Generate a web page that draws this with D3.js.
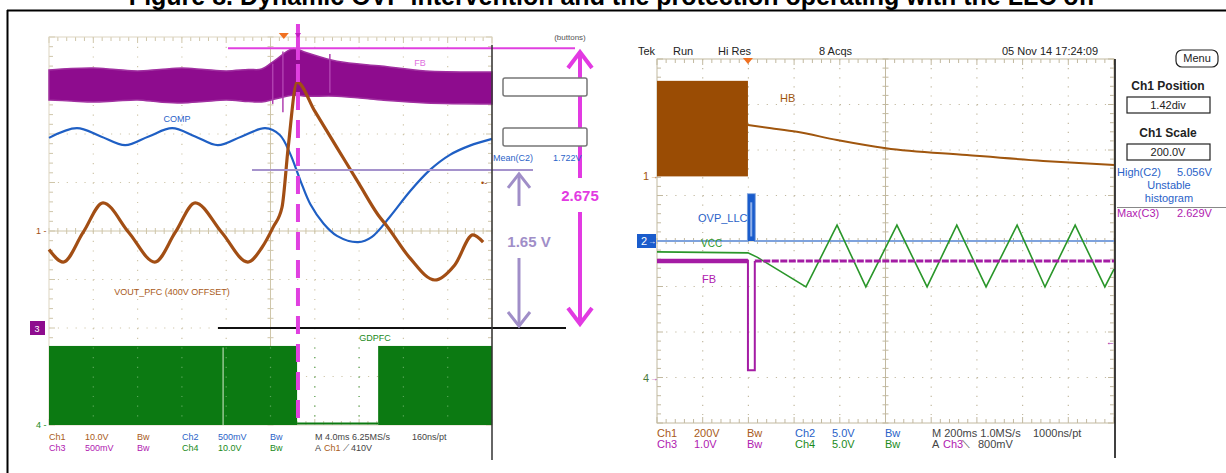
<!DOCTYPE html>
<html><head><meta charset="utf-8">
<script src="https://cdn.jsdelivr.net/npm/d3@7"></script>
<style>
body{margin:0;background:#fff}
svg{display:block}
text{font-family:"Liberation Sans",Arial,sans-serif}
</style>
</head><body>
<svg id="c" width="1226" height="473"></svg>
<script>
// ---------------- DATA (values in scope divisions: x 0..10, y -4..4) ----------------
const titleText = "Figure 8. Dynamic OVP intervention and the protection operating with the LLC off";

// Left scope (PFC)
const pfcComp = [[0,1.92],[0.63,2.12],[1.17,1.95],[1.72,1.77],[2.25,1.95],[2.78,2.12],[3.3,1.95],[3.81,1.77],[4.35,1.95],[4.88,2.12],[5.21,1.98],[5.44,1.6],[5.67,1.05],[5.9,0.55],[6.2,0.15],[6.5,-0.1],[6.98,-0.23],[7.29,-0.12],[7.70,0.30],[8.15,0.82],[8.60,1.26],[9.05,1.57],[9.50,1.76],[10,1.90]];
const pfcVout = [[0,-0.38],[0.32,-0.64],[0.77,-0.03],[1.22,0.58],[1.80,-0.03],[2.39,-0.64],[2.85,-0.03],[3.30,0.58],[3.90,-0.03],[4.49,-0.64],[4.80,-0.35],[5.06,0.08],[5.26,0.49],[5.40,1.73],[5.60,3.07],[6.0,2.47],[6.5,1.72],[7.0,0.97],[7.43,0.33],[7.63,0.10],[8.15,-0.56],[8.71,-1.01],[9.16,-0.70],[9.57,-0.08],[9.80,-0.23]];
// FB band: [x, lower, upper]
const pfcFb = [[0,2.70,3.32],[0.5,2.68,3.35],[1.0,2.66,3.36],[1.5,2.68,3.33],[2.0,2.70,3.30],[2.5,2.66,3.33],[3.0,2.64,3.36],[3.5,2.67,3.33],[4.0,2.70,3.30],[4.5,2.67,3.33],[4.8,2.66,3.34],[5.1,2.72,3.52],[5.5,2.80,3.76],[5.8,2.78,3.68],[6.5,2.78,3.50],[7.5,2.70,3.40],[8.5,2.64,3.30],[10,2.62,3.28]];
const pfcFbSpikes = [[5.28,2.45,3.70],[5.05,2.62,3.45],[6.34,2.85,3.65]];
const pfcGdOn = [[0,5.60],[7.43,10]];
const pfcGdLevels = [-4,-2.37];
const pfcLevels = [3.77, 1.26, -2.0];   // FB max, Mean(C2), Ch3 zero
const pfcEventX = 5.62;                  // OVP instant (dashed marker)
const pfcReadRow1 = [["Ch1","#a85a20"],["10.0V","#a85a20"],["Bw","#a85a20"],["Ch2","#2a62c8"],["500mV","#2a62c8"],["Bw","#2a62c8"],["M 4.0ms 6.25MS/s","#444"],["160ns/pt","#444"]];
const pfcReadRow2 = [["Ch3","#b020b0"],["500mV","#b020b0"],["Bw","#b020b0"],["Ch4","#1a8a1a"],["10.0V","#1a8a1a"],["Bw","#1a8a1a"],["A","#444"],["Ch1","#a85a20"],["⟋","#444"],["410V","#444"]];

// Right scope (LLC)
const llcHbBurst = [[0,1.42],[1.99,3.52]];
const llcHb = [[1.99,2.55],[2.5,2.48],[3.06,2.40],[3.94,2.22],[5.01,2.04],[6.78,1.89],[8.45,1.76],[10,1.67]];
const llcOvp = [[0,0],[1.99,0],[1.99,1.03],[2.14,1.03],[2.14,0],[10,0]];
const llcVcc = [[0,-0.24],[1.99,-0.26],[2.2,-0.36],[3.26,-1.01],[3.94,0.35],[4.57,-1.01],[5.25,0.35],[5.91,-1.01],[6.56,0.35],[7.20,-1.01],[7.88,0.35],[8.49,-1.01],[9.15,0.35],[9.80,-1.01],[10,-0.62]];
const llcFbBefore = [[0,-0.44],[1.99,-0.44],[1.99,-2.84],[2.14,-2.84],[2.14,-0.44]];
const llcFbAfter = [[2.14,-0.44],[10,-0.44]];
const llcTrigLevel = -2.22;
const llcStatus = ["Tek","Run","Hi Res","8 Acqs","05 Nov 14 17:24:09"];
const llcReadRow1 = [["Ch1","#a85a20"],["200V","#a85a20"],["Bw","#a85a20"],["Ch2","#2a62c8"],["5.0V","#2a62c8"],["Bw","#2a62c8"],["M 200ms 1.0MS/s","#444"],["1000ns/pt","#444"]];
const llcReadRow2 = [["Ch3","#b020b0"],["1.0V","#b020b0"],["Bw","#b020b0"],["Ch4","#1a8a1a"],["5.0V","#1a8a1a"],["Bw","#1a8a1a"],["A","#444"],["Ch3","#b020b0"],["⟍","#444"],["800mV","#444"]];
const llcMenu = [["Ch1 Position","1.42div"],["Ch1 Scale","200.0V"]];
const llcMeas = [["High(C2)","5.056V","#2a62c8"],["Max(C3)","2.629V","#b020b0"]];

// ---------------- DRAWING ----------------
const svg = d3.select("#c");
const pfcX = d3.scaleLinear().domain([0,10]).range([49,492]);
const pfcY = d3.scaleLinear().domain([4,-4]).range([37,425]);
const llcX = d3.scaleLinear().domain([0,10]).range([657,1114]);
const llcY = d3.scaleLinear().domain([4,-4]).range([59,423]);

// title (clipped at top, as in the reference) and frame
svg.append("text").attr("x",612).attr("y",4.5).attr("text-anchor","middle")
  .attr("font-size",25).attr("font-weight","bold").attr("fill","#000").text(titleText);
svg.append("line").attr("x1",7).attr("x2",1226).attr("y1",10.5).attr("y2",10.5).attr("stroke","#000").attr("stroke-width",2);
svg.append("line").attr("x1",7.5).attr("x2",7.5).attr("y1",10).attr("y2",473).attr("stroke","#000").attr("stroke-width",2);

function drawGrid(g, x, y, col, border) {
  const dx = x(0.2)-x(0), dy = y(0)-y(0.2);
  for (let i=1;i<10;i++) if (i!==5)
    g.append("line").attr("x1",x(i)).attr("x2",x(i)).attr("y1",y(4)).attr("y2",y(-4))
      .attr("stroke",col).attr("stroke-width",1.2).attr("stroke-dasharray",`1.2,${dy-1.2}`);
  for (let j=-3;j<=3;j++) if (j!==0)
    g.append("line").attr("x1",x(0)).attr("x2",x(10)).attr("y1",y(j)).attr("y2",y(j))
      .attr("stroke",col).attr("stroke-width",1.2).attr("stroke-dasharray",`1.2,${dx-1.2}`);
  g.append("line").attr("x1",x(5)).attr("x2",x(5)).attr("y1",y(4)).attr("y2",y(-4)).attr("stroke",col).attr("stroke-width",1);
  g.append("line").attr("x1",x(0)).attr("x2",x(10)).attr("y1",y(0)).attr("y2",y(0)).attr("stroke",col).attr("stroke-width",1);
  const xt = d3.range(0,10.001,0.2), yt = d3.range(-4,4.001,0.2);
  xt.forEach(v=>{
    const L = Math.abs(v-Math.round(v))<1e-6 ? 6 : 4;
    g.append("line").attr("x1",x(v)).attr("x2",x(v)).attr("y1",y(4)).attr("y2",y(4)+L).attr("stroke",col);
    g.append("line").attr("x1",x(v)).attr("x2",x(v)).attr("y1",y(-4)).attr("y2",y(-4)-L).attr("stroke",col);
    g.append("line").attr("x1",x(v)).attr("x2",x(v)).attr("y1",y(0)-3).attr("y2",y(0)+3).attr("stroke",col);
  });
  yt.forEach(v=>{
    const L = Math.abs(v-Math.round(v))<1e-6 ? 6 : 4;
    g.append("line").attr("y1",y(v)).attr("y2",y(v)).attr("x1",x(0)).attr("x2",x(0)+L).attr("stroke",col);
    g.append("line").attr("y1",y(v)).attr("y2",y(v)).attr("x1",x(10)).attr("x2",x(10)-L).attr("stroke",col);
    g.append("line").attr("y1",y(v)).attr("y2",y(v)).attr("x1",x(5)-3).attr("x2",x(5)+3).attr("stroke",col);
  });
  if (border) g.append("rect").attr("x",x(0)).attr("y",y(4)).attr("width",x(10)-x(0)).attr("height",y(-4)-y(4))
    .attr("fill","none").attr("stroke",border);
}

function arrowHead(g, x, y, dir, w, h, col, sw) {
  g.append("path").attr("d",`M${x-w},${y+dir*h}L${x},${y}L${x+w},${y+dir*h}`)
    .attr("fill","none").attr("stroke",col).attr("stroke-width",sw).attr("stroke-linejoin","miter");
}

// ================= LEFT SCOPE =================
const L = svg.append("g");
drawGrid(L, pfcX, pfcY, "#cfc6aa", "#ddd6c2");

L.append("path").datum(pfcFb)
  .attr("d", d3.area().x(d=>pfcX(d[0])).y0(d=>pfcY(d[1])).y1(d=>pfcY(d[2])).curve(d3.curveCatmullRom))
  .attr("fill","#8e0c8e").attr("stroke","#a030a0").attr("stroke-width",1.5);
pfcFbSpikes.forEach(s=>{
  L.append("line").attr("x1",pfcX(s[0])).attr("x2",pfcX(s[0])).attr("y1",pfcY(s[1])).attr("y2",pfcY(s[2]))
    .attr("stroke","#b040b0").attr("stroke-width",1.5);
});

pfcGdOn.forEach(r=>{
  L.append("rect").attr("x",pfcX(r[0])).attr("width",pfcX(r[1])-pfcX(r[0]))
    .attr("y",pfcY(pfcGdLevels[1])).attr("height",pfcY(pfcGdLevels[0])-pfcY(pfcGdLevels[1]))
    .attr("fill","#0c7a12");
});
L.append("line").attr("x1",pfcX(pfcGdOn[0][1])).attr("x2",pfcX(pfcGdOn[1][0]))
  .attr("y1",pfcY(-3.97)).attr("y2",pfcY(-3.97)).attr("stroke","#0c7a12").attr("stroke-width",2);
L.append("line").attr("x1",pfcX(3.93)).attr("x2",pfcX(3.93)).attr("y1",pfcY(-2.4)).attr("y2",pfcY(-4))
  .attr("stroke","#b8d8b0").attr("stroke-width",1.2);
for (let i=1;i<10;i++) L.append("line").attr("x1",pfcX(i)).attr("x2",pfcX(i)).attr("y1",pfcY(-2.4)).attr("y2",pfcY(-4))
  .attr("stroke","#5aa85a").attr("stroke-width",1.2).attr("stroke-dasharray","1.2,8.5");

L.append("path").datum(pfcComp)
  .attr("d", d3.line().x(d=>pfcX(d[0])).y(d=>pfcY(d[1])).curve(d3.curveCatmullRom))
  .attr("fill","none").attr("stroke","#1f5fc4").attr("stroke-width",2.2);
L.append("path").datum(pfcVout)
  .attr("d", d3.line().x(d=>pfcX(d[0])).y(d=>pfcY(d[1])).curve(d3.curveMonotoneX))
  .attr("fill","none").attr("stroke","#a24e14").attr("stroke-width",3.2);

// annotations
L.append("line").attr("x1",228).attr("x2",575).attr("y1",pfcY(pfcLevels[0])).attr("y2",pfcY(pfcLevels[0]))
  .attr("stroke","#e040e0").attr("stroke-width",2);
L.append("line").attr("x1",252).attr("x2",533).attr("y1",pfcY(pfcLevels[1])).attr("y2",pfcY(pfcLevels[1]))
  .attr("stroke","#a592cc").attr("stroke-width",2);
L.append("line").attr("x1",218).attr("x2",566).attr("y1",pfcY(pfcLevels[2])).attr("y2",pfcY(pfcLevels[2]))
  .attr("stroke","#111").attr("stroke-width",2);
L.append("line").attr("x1",pfcX(pfcEventX)).attr("x2",pfcX(pfcEventX)).attr("y1",24).attr("y2",60)
  .attr("stroke","#e040e0").attr("stroke-width",4);
L.append("line").attr("x1",pfcX(pfcEventX)).attr("x2",pfcX(pfcEventX)).attr("y1",64).attr("y2",pfcY(-4))
  .attr("stroke","#e040e0").attr("stroke-width",4).attr("stroke-dasharray","18,10");
L.append("line").attr("x1",492).attr("x2",492).attr("y1",45).attr("y2",460).attr("stroke","#333").attr("stroke-width",1.5);

L.append("path").attr("d",`M${pfcX(5.3)-5},33L${pfcX(5.3)+5},33L${pfcX(5.3)},39Z`).attr("fill","#f07020");
L.append("path").attr("d",`M${pfcX(pfcEventX)-3},33L${pfcX(pfcEventX)+3},33L${pfcX(pfcEventX)},38Z`).attr("fill","#c020c0");

const lav="#a08ec8";
L.append("line").attr("x1",519).attr("x2",519).attr("y1",pfcY(pfcLevels[1])+4).attr("y2",206).attr("stroke",lav).attr("stroke-width",3);
arrowHead(L,519,pfcY(pfcLevels[1])+4,1,11,14,lav,3);
L.append("line").attr("x1",519).attr("x2",519).attr("y1",258).attr("y2",pfcY(pfcLevels[2])-2).attr("stroke",lav).attr("stroke-width",3);
arrowHead(L,519,pfcY(pfcLevels[2])-2,-1,11,14,lav,3);
L.append("text").attr("x",529).attr("y",247).attr("text-anchor","middle").attr("font-family","DejaVu Sans")
  .attr("font-weight","bold").attr("font-size",15).attr("fill",lav).text("1.65 V");
const mag="#e23ae2";
L.append("line").attr("x1",580).attr("x2",580).attr("y1",52).attr("y2",178).attr("stroke",mag).attr("stroke-width",4);
arrowHead(L,580,52,1,12,16,mag,4);
L.append("line").attr("x1",580).attr("x2",580).attr("y1",212).attr("y2",324).attr("stroke",mag).attr("stroke-width",4);
arrowHead(L,580,324,-1,12,16,mag,4);
L.append("text").attr("x",580).attr("y",201).attr("text-anchor","middle").attr("font-family","DejaVu Sans")
  .attr("font-weight","bold").attr("font-size",15).attr("fill",mag).text("2.675");

[[78,96],[128,146]].forEach(b=>{
  L.append("rect").attr("x",503).attr("y",b[0]).attr("width",84).attr("height",b[1]-b[0]).attr("rx",2)
    .attr("fill","#fff").attr("stroke","#777").attr("stroke-width",1.5);
});
L.append("text").attr("x",570).attr("y",40).attr("text-anchor","middle").attr("font-size",8).attr("fill","#555").text("(buttons)");
L.append("text").attr("x",493).attr("y",161).attr("font-size",9).attr("fill","#2a62c8").text("Mean(C2)");
L.append("text").attr("x",553).attr("y",161).attr("font-size",9).attr("fill","#2a62c8").text("1.722V");
L.append("text").attr("x",481).attr("y",186).attr("font-size",9).attr("fill","#a24e14").text("•-");

L.append("text").attr("x",177).attr("y",122).attr("text-anchor","middle").attr("font-size",9).attr("fill","#2a62c8").text("COMP");
L.append("text").attr("x",420).attr("y",66).attr("text-anchor","middle").attr("font-size",9).attr("fill","#e070e0").text("FB");
L.append("text").attr("x",172).attr("y",295).attr("text-anchor","middle").attr("font-size",9).attr("fill","#a85a20").text("VOUT_PFC (400V OFFSET)");
L.append("text").attr("x",375).attr("y",341).attr("text-anchor","middle").attr("font-size",9).attr("fill","#1a8a1a").text("GDPFC");

L.append("text").attr("x",36).attr("y",pfcY(0)+3).attr("font-size",9).attr("fill","#a24e14").text("1 -");
L.append("rect").attr("x",30).attr("y",pfcY(-2)-7).attr("width",15).attr("height",14).attr("fill","#8e0c8e");
L.append("text").attr("x",37).attr("y",pfcY(-2)+4).attr("text-anchor","middle").attr("font-size",9).attr("fill","#fff").text("3");
L.append("text").attr("x",36).attr("y",pfcY(-4)+3).attr("font-size",9).attr("fill","#1a8a1a").text("4 -");

const pfcCols1=[49,85,137,182,218,270,315,412], pfcCols2=[49,85,137,182,218,270,315,324,343,351];
pfcReadRow1.forEach((t,i)=>L.append("text").attr("x",pfcCols1[i]).attr("y",440).attr("font-size",9).attr("fill",t[1]).text(t[0]));
pfcReadRow2.forEach((t,i)=>L.append("text").attr("x",pfcCols2[i]).attr("y",451).attr("font-size",9).attr("fill",t[1]).text(t[0]));

// ================= RIGHT SCOPE =================
const R = svg.append("g");
drawGrid(R, llcX, llcY, "#c2b9a0", "#c2b9a0");

R.append("rect").attr("x",llcX(llcHbBurst[0][0])).attr("y",llcY(llcHbBurst[1][1]))
  .attr("width",llcX(llcHbBurst[1][0])-llcX(llcHbBurst[0][0])).attr("height",llcY(llcHbBurst[0][1])-llcY(llcHbBurst[1][1]))
  .attr("fill","#9a4c04");
R.append("path").datum(llcHb)
  .attr("d", d3.line().x(d=>llcX(d[0])).y(d=>llcY(d[1])).curve(d3.curveMonotoneX))
  .attr("fill","none").attr("stroke","#a0560e").attr("stroke-width",2);

R.append("path").datum(llcOvp)
  .attr("d", d3.line().x(d=>llcX(d[0])).y(d=>llcY(d[1])))
  .attr("fill","none").attr("stroke","#7ea2dc").attr("stroke-width",2);
R.append("rect").attr("x",llcX(1.99)).attr("y",llcY(1.03)).attr("width",llcX(2.14)-llcX(1.99)).attr("height",llcY(0)-llcY(1.03))
  .attr("fill","#1a5ccc");
R.append("rect").attr("x",llcX(2.04)).attr("y",llcY(0.85)).attr("width",2).attr("height",llcY(0.1)-llcY(0.85)).attr("fill","#8fb0ea");

R.append("path").datum(llcVcc)
  .attr("d", d3.line().x(d=>llcX(d[0])).y(d=>llcY(d[1])))
  .attr("fill","none").attr("stroke","#2a962a").attr("stroke-width",1.6);

R.append("path").datum(llcFbBefore)
  .attr("d", d3.line().x(d=>llcX(d[0])).y(d=>llcY(d[1])))
  .attr("fill","none").attr("stroke","#a41ca4").attr("stroke-width",2);
R.append("line").attr("x1",llcX(0)).attr("x2",llcX(1.99)).attr("y1",llcY(-0.44)).attr("y2",llcY(-0.44))
  .attr("stroke","#a41ca4").attr("stroke-width",4.5);
R.append("path").datum(llcFbAfter)
  .attr("d", d3.line().x(d=>llcX(d[0])).y(d=>llcY(d[1])))
  .attr("fill","none").attr("stroke","#a41ca4").attr("stroke-width",3).attr("stroke-dasharray","7,1.5");

R.append("text").attr("x",780).attr("y",102).attr("font-size",11).attr("fill","#a0560e").text("HB");
R.append("text").attr("x",698).attr("y",222).attr("font-size",11).attr("fill","#2a62c8").text("OVP_LLC");
R.append("text").attr("x",701).attr("y",247).attr("font-size",10).attr("fill","#2a962a").text("VCC");
R.append("text").attr("x",702).attr("y",283).attr("font-size",11).attr("fill","#b020b0").text("FB");

R.append("text").attr("x",643).attr("y",llcY(1.42)+4).attr("font-size",11).attr("fill","#a0560e").text("1");
R.append("text").attr("x",650).attr("y",llcY(1.42)+3).attr("font-size",8).attr("fill","#a0560e").text("→");
R.append("rect").attr("x",637).attr("y",llcY(0)-7).attr("width",19).attr("height",14).attr("fill","#1a5ccc");
R.append("text").attr("x",641).attr("y",llcY(0)+4).attr("font-size",11).attr("fill","#fff").text("2");
R.append("text").attr("x",648).attr("y",llcY(0)+3).attr("font-size",8).attr("fill","#fff").text("→");
R.append("text").attr("x",643).attr("y",llcY(-3)+4).attr("font-size",11).attr("fill","#4a7a3a").text("4");
R.append("text").attr("x",650).attr("y",llcY(-3)+3).attr("font-size",8).attr("fill","#a41ca4").text("→");
R.append("text").attr("x",llcX(10)-8).attr("y",llcY(llcTrigLevel)+3).attr("font-size",9).attr("fill","#a41ca4").text("←");

R.append("line").attr("x1",1115).attr("x2",1115).attr("y1",59).attr("y2",458).attr("stroke","#000").attr("stroke-width",1.5);
R.append("path").attr("d",`M${llcX(1.99)-5},58L${llcX(1.99)+5},58L${llcX(1.99)},64Z`).attr("fill","#f07020");

const statX=[638,673,718,819,1002];
llcStatus.forEach((t,i)=>R.append("text").attr("x",statX[i]).attr("y",55).attr("font-size",11).attr("fill","#222").text(t));

R.append("rect").attr("x",1176).attr("y",50).attr("width",42).attr("height",17).attr("rx",6).attr("fill","#fff").attr("stroke","#222").attr("stroke-width",1.2);
R.append("text").attr("x",1197).attr("y",62).attr("text-anchor","middle").attr("font-size",11).attr("fill","#222").text("Menu");
const menuY=[90,137];
llcMenu.forEach((m,i)=>{
  R.append("text").attr("x",1168).attr("y",menuY[i]).attr("text-anchor","middle").attr("font-size",12).attr("font-weight","bold").attr("fill","#222").text(m[0]);
  R.append("rect").attr("x",1127).attr("y",menuY[i]+7).attr("width",83).attr("height",16).attr("fill","#fff").attr("stroke","#222").attr("stroke-width",1.2);
  R.append("text").attr("x",1168).attr("y",menuY[i]+19).attr("text-anchor","middle").attr("font-size",11).attr("fill","#222").text(m[1]);
});
R.append("text").attr("x",1117).attr("y",176).attr("font-size",11).attr("fill",llcMeas[0][2]).text(llcMeas[0][0]);
R.append("text").attr("x",1177).attr("y",176).attr("font-size",11).attr("fill",llcMeas[0][2]).text(llcMeas[0][1]);
R.append("text").attr("x",1169).attr("y",189).attr("text-anchor","middle").attr("font-size",11).attr("fill",llcMeas[0][2]).text("Unstable");
R.append("text").attr("x",1169).attr("y",202).attr("text-anchor","middle").attr("font-size",11).attr("fill",llcMeas[0][2]).text("histogram");
R.append("line").attr("x1",1117).attr("x2",1226).attr("y1",207.5).attr("y2",207.5).attr("stroke","#888");
R.append("text").attr("x",1117).attr("y",217).attr("font-size",11).attr("fill",llcMeas[1][2]).text(llcMeas[1][0]);
R.append("text").attr("x",1177).attr("y",217).attr("font-size",11).attr("fill",llcMeas[1][2]).text(llcMeas[1][1]);

const llcCols1=[657,694,747,795,832,885,932,1033], llcCols2=[657,694,747,795,832,885,932,943,962,978];
llcReadRow1.forEach((t,i)=>R.append("text").attr("x",llcCols1[i]).attr("y",437).attr("font-size",11).attr("fill",t[1]).text(t[0]));
llcReadRow2.forEach((t,i)=>R.append("text").attr("x",llcCols2[i]).attr("y",448).attr("font-size",11).attr("fill",t[1]).text(t[0]));
</script>
</body></html>
